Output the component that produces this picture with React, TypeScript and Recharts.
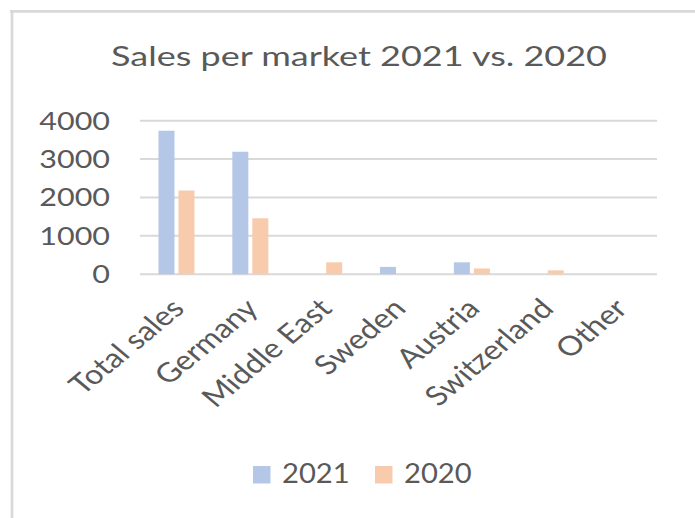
import React from 'react';
import { BarChart, Bar, XAxis, YAxis, CartesianGrid, Legend } from 'recharts';

const categories = ['Total sales', 'Germany', 'Middle East', 'Sweden', 'Austria', 'Switzerland', 'Other'];
const sales2021 = [3740, 3190, 0, 190, 310, 0, 0];
const sales2020 = [2180, 1460, 310, 0, 150, 100, 0];
const yTicks = [0, 1000, 2000, 3000, 4000];
const seriesNames = ['2021', '2020'];
const titleText = 'Sales per market 2021 vs. 2020';

const data = categories.map((c, i) => ({ market: c, y2021: sales2021[i], y2020: sales2020[i] }));

const FONT = 'Lato, "Noto Sans", sans-serif';
const TEXT = '#595959';
const C2021 = '#b4c7e7';
const C2020 = '#f8cbad';
const seriesColors = [C2021, C2020];
const SX = 1.2;

const YTick = (props: any) => {
  const { x, y, payload } = props;
  return (
    <text transform={`translate(${x},${y}) scale(1.22,1)`} textAnchor="end" dy="0.36em" fill={TEXT} fontFamily={FONT} fontSize={25}>
      {payload.value}
    </text>
  );
};

const XTick = (props: any) => {
  const { x, y, payload } = props;
  return (
    <text transform={`translate(${x + 9},${y + 36}) scale(${SX},1) rotate(-45)`} textAnchor="end" fill={TEXT} fontFamily={FONT} fontSize={27}>
      {payload.value}
    </text>
  );
};

const LegendContent = () => (
  <svg width={240} height={40} style={{ display: 'block' }}>
    {seriesNames.map((n, i) => (
      <g key={n} transform={`translate(${i * 122},0)`}>
        <rect x={0} y={11} width={17.5} height={17.5} fill={seriesColors[i]} />
        <text x={29} y={28} fill={TEXT} fontFamily={FONT} fontSize={27} transform={`translate(29,0) scale(1.08,1) translate(-29,0)`}>
          {n}
        </text>
      </g>
    ))}
  </svg>
);

export default function App() {
  return (
    <div style={{ position: 'absolute', left: 0, top: 0, width: 695, height: 518, background: '#fff', overflow: 'hidden' }}>
      <div style={{ position: 'absolute', left: 0, top: 0 }}>
        <BarChart
          width={695}
          height={518}
          data={data}
          margin={{ top: 120.7, right: 38, left: 0, bottom: 0 }}
          barCategoryGap="25%"
          barGap={4}
        >
          <CartesianGrid vertical={false} stroke="#d9d9d9" strokeWidth={2} />
          <XAxis
            dataKey="market"
            height={243.8}
            interval={0}
            tickLine={false}
            axisLine={false}
            tickSize={0}
            tickMargin={0}
            tick={<XTick />}
          />
          <YAxis
            width={140}
            domain={[0, 4000]}
            ticks={yTicks}
            interval={0}
            tickLine={false}
            axisLine={false}
            tickSize={0}
            tickMargin={30}
            tick={<YTick />}
          />
          <Legend
            layout="horizontal"
            verticalAlign="middle"
            align="center"
            wrapperStyle={{ top: 455, left: 253, width: 240, height: 40 }}
            content={<LegendContent />}
          />
          <Bar dataKey="y2021" name={seriesNames[0]} fill={C2021} isAnimationActive={false} />
          <Bar dataKey="y2020" name={seriesNames[1]} fill={C2020} isAnimationActive={false} />
        </BarChart>
      </div>
      <svg width={695} height={518} style={{ position: 'absolute', left: 0, top: 0, pointerEvents: 'none' }}>
        <line x1={10} y1={11.3} x2={695} y2={11.3} stroke="#d9d9d9" strokeWidth={2.7} />
        <line x1={12} y1={10} x2={12} y2={518} stroke="#d9d9d9" strokeWidth={2.7} />
        <text x={359} y={66} textAnchor="middle" fill={TEXT} fontFamily={FONT} fontSize={27} textLength={496} lengthAdjust="spacingAndGlyphs">
          {titleText}
        </text>
      </svg>
    </div>
  );
}
